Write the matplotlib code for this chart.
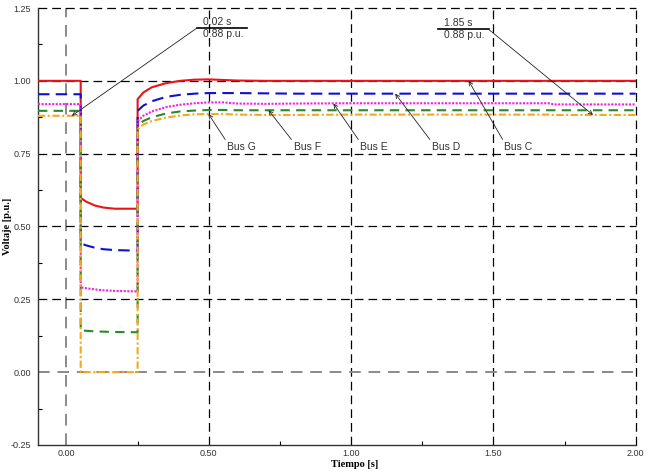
import matplotlib
matplotlib.use("Agg")
import matplotlib.pyplot as plt
from matplotlib.ticker import MultipleLocator

plt.rcParams['font.family'] = ['Liberation Sans', 'DejaVu Sans']

# ---- data ----
t = [-0.10, 0.05, 0.05, 0.07, 0.10, 0.13, 0.17, 0.25, 0.25, 0.27, 0.30, 0.35, 0.40, 0.45,
     0.50, 0.55, 0.60, 0.70, 0.80, 1.00, 1.20, 1.40, 1.60, 1.70, 1.71, 1.85, 2.00]

bus_c = [1.000, 1.000, 0.598, 0.585, 0.572, 0.565, 0.561, 0.561, 0.937, 0.960, 0.978, 0.992, 1.000, 1.004,
         1.005, 1.003, 1.001, 1.000, 1.000, 1.000, 1.000, 1.000, 1.000, 1.000, 1.000, 1.000, 1.000]
bus_d = [0.954, 0.954, 0.442, 0.435, 0.427, 0.422, 0.419, 0.417, 0.897, 0.915, 0.930, 0.945, 0.952, 0.956,
         0.958, 0.958, 0.958, 0.957, 0.956, 0.956, 0.956, 0.956, 0.956, 0.956, 0.956, 0.956, 0.956]
bus_e = [0.920, 0.920, 0.291, 0.288, 0.284, 0.281, 0.279, 0.277, 0.862, 0.880, 0.895, 0.910, 0.918, 0.923,
         0.926, 0.926, 0.922, 0.921, 0.922, 0.923, 0.923, 0.923, 0.923, 0.923, 0.919, 0.919, 0.919]
bus_f = [0.897, 0.897, 0.143, 0.142, 0.140, 0.139, 0.138, 0.137, 0.846, 0.862, 0.875, 0.888, 0.895, 0.898,
         0.900, 0.900, 0.899, 0.899, 0.899, 0.899, 0.899, 0.899, 0.899, 0.899, 0.899, 0.899, 0.899]
bus_g = [0.880, 0.880, 0.000, 0.000, 0.000, 0.000, 0.000, 0.000, 0.834, 0.850, 0.862, 0.874, 0.881, 0.885,
         0.886, 0.886, 0.884, 0.883, 0.883, 0.884, 0.884, 0.884, 0.884, 0.884, 0.883, 0.883, 0.883]

series = [
    ("Bus C", bus_c, "#e8141a", "-"),
    ("Bus D", bus_d, "#1010d0", (0, (5.5, 3))),
    ("Bus E", bus_e, "#f020e0", (0, (1, 0.7))),
    ("Bus F", bus_f, "#2a8a2a", (0, (4.5, 3))),
    ("Bus G", bus_g, "#f5a623", (0, (3.5, 1.2, 1, 1.2))),
]

# label annotations: (text, point t, point v, text t, text v)
bus_labels = [
    ("Bus G", 0.499, 0.886, 0.564, 0.755),
    ("Bus F", 0.710, 0.899, 0.798, 0.755),
    ("Bus E", 0.938, 0.922, 1.032, 0.755),
    ("Bus D", 1.155, 0.956, 1.284, 0.755),
    ("Bus C", 1.413, 1.000, 1.538, 0.755),
]

# cursor annotations: (time text, value text, point t, point v, bar t0, bar t1, bar v, leader side)
cursors = [
    ("0.02 s", "0.88 p.u.", 0.019, 0.880, 0.458, 0.634, 1.181, "left"),
    ("1.85 s", "0.88 p.u.", 1.850, 0.883, 1.307, 1.483, 1.177, "right"),
]

xticks = [0.0, 0.5, 1.0, 1.5, 2.0]
xticklabels = ["0.00", "0.50", "1.00", "1.50", "2.00"]
yticks = [-0.25, 0.0, 0.25, 0.5, 0.75, 1.0, 1.25]
yticklabels = ["-0.25", "0.00", "0.25", "0.50", "0.75", "1.00", "1.25"]

# ---- figure ----
fig = plt.figure(figsize=(6.5, 4.74), dpi=100)
ax = fig.add_axes([38/650, 1-445/474, (635.7-38)/650, (445-8)/474])
ax.set_xlim(-0.1, 2.0)
ax.set_ylim(-0.25, 1.25)

# grid
grid_kw = dict(color="black", lw=0.9, dashes=(7, 4), zorder=1, clip_on=False)
for xv in xticks:
    if xv == 0.0:
        ax.axvline(xv, color="#8a8a8a", lw=1.4, dashes=(6, 4), zorder=1)
    else:
        ax.axvline(xv, **grid_kw)
for yv in yticks[1:]:
    if yv == 0.0:
        ax.axhline(yv, color="#8a8a8a", lw=1.4, dashes=(6, 4), zorder=1)
    else:
        ax.axhline(yv, **grid_kw)

for name, vals, col, ls in series:
    ax.plot(t, vals, color=col, lw=1.5, linestyle=ls, zorder=3)

for name, pt, pv, tt, tv in bus_labels:
    ax.annotate(name, xy=(pt, pv), xytext=(tt, tv), fontsize=7.5, color="#333333",
                ha="left", va="bottom",
                arrowprops=dict(arrowstyle="->", lw=0.6, color="#222222",
                                mutation_scale=7, shrinkA=0, shrinkB=0,
                                relpos=(0, 1)), zorder=5)

for ts, vs, pt, pv, b0, b1, bv, side in cursors:
    ax.plot([b0, b1], [bv, bv], color="black", lw=1.2, zorder=5)
    ax.text(b0 + 0.02, bv + 0.005, ts, fontsize=7.5, color="#333333", ha="left", va="bottom")
    ax.text(b0 + 0.02, bv - 0.003, vs, fontsize=7.5, color="#333333", ha="left", va="top")
    start = b0 if side == "left" else b1
    ax.annotate("", xy=(pt, pv), xytext=(start, bv),
                arrowprops=dict(arrowstyle="->", lw=0.6, color="#222222",
                                mutation_scale=7, shrinkA=0, shrinkB=0), zorder=5)

ax.set_xticks(xticks)
ax.set_xticklabels(xticklabels)
ax.set_yticks(yticks)
ax.set_yticklabels(yticklabels)
ax.xaxis.set_minor_locator(MultipleLocator(0.25))
ax.yaxis.set_minor_locator(MultipleLocator(0.125))
ax.tick_params(which="major", length=0, labelsize=6.5, labelcolor="#333333")
ax.tick_params(axis="x", which="major", pad=3)
ax.tick_params(axis="y", which="major", pad=5)
ax.tick_params(which="minor", direction="in", length=3, width=0.8)

for s in ["top", "right"]:
    ax.spines[s].set_visible(False)
for s in ["left", "bottom"]:
    ax.spines[s].set_linewidth(1.0)
    ax.spines[s].set_color("#333333")

ax.set_xlabel("Tiempo [s]", family=["Liberation Serif", "DejaVu Serif"], fontweight="bold", fontsize=7.5)
ax.xaxis.set_label_coords((355-38)/(635.7-38), -0.035)
ax.set_ylabel("Voltaje [p.u.]", family=["Liberation Serif", "DejaVu Serif"], fontweight="bold", fontsize=7.5)
ax.yaxis.set_label_coords(-0.043, 0.5)

fig.savefig("out.png", dpi=100)
